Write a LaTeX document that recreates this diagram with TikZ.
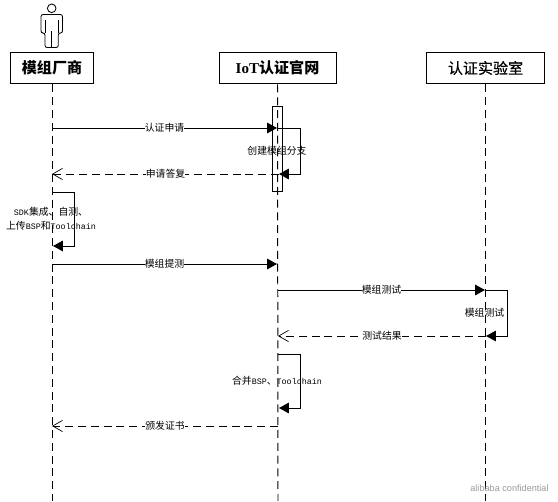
\documentclass[tikz,border=0pt]{standalone}
\usepackage{fontspec}
\setmainfont{Liberation Serif}
\newfontfamily\cjk{Noto Sans CJK SC}
\newfontfamily\cjkmid[FakeBold=0.6]{Noto Sans CJK SC}
\newfontfamily\lat[Scale=0.85]{Liberation Mono}
\newfontfamily\wmfont{Liberation Sans}
\usetikzlibrary{arrows.meta,positioning}
\definecolor{ink}{HTML}{000000}
\definecolor{muted}{HTML}{9A9A9A}
\tikzset{
  party/.style={draw=ink,line width=0.7pt,fill=white,minimum height=22.7pt,inner sep=0pt,font=\bfseries\fontsize{10.7}{12}\selectfont},
  life/.style={draw=ink,line width=0.7pt,dash pattern=on 5.7pt off 3.4pt},
  msg/.style={draw=ink,line width=0.7pt,-{Triangle[length=7pt,width=7.5pt]}},
  ret/.style={draw=ink,line width=0.7pt,dash pattern=on 5.7pt off 3.4pt,-{Straight Barb[length=7pt,width=8pt,line width=0.5pt]}},
  msglabel/.style={fill=white,inner sep=0pt,font=\cjk\fontsize{7}{8}\selectfont},
  selflabel/.style={inner sep=0pt,align=center,font=\cjk\fontsize{7}{10}\selectfont},
}
\begin{document}
\begin{tikzpicture}[x=0.025cm,y=-0.025cm]
  \useasboundingbox[fill=white] (0,0) rectangle (558,501);
  % lifelines first, the boxes sit on top
  \node[party,minimum width=59pt] (vendor) at (52,68) {\cjk\bfseries 模组厂商};
  \node[party,minimum width=83.2pt] (portal) at (277.5,68) {IoT{\cjk\bfseries 认证官网}};
  \node[party,minimum width=84.6pt] (lab) at (485.5,68) {\cjkmid\mdseries 认证实验室};
  \coordinate (vendorend) at (52,501);
  \coordinate (portalend) at (278,501);
  \coordinate (labend) at (485.5,501);
  \draw[life] (vendor.south) -- (vendorend);
  \draw[life] (portal.south) -- (portalend);
  \draw[life] (lab.south) -- (labend);
  % actor
  \draw[draw=ink,line width=0.6pt] (51.7,8.3) circle (4.3);
  \draw[draw=ink,line width=0.6pt,rounded corners=1.5pt] (45,47.5) -- (45,33) -- (41,33) -- (41,14.5) -- (62.5,14.5) -- (62.5,33) -- (58.3,33) -- (58.3,47.5) -- cycle;
  \draw[draw=ink,line width=0.6pt] (45,20) -- (45,33) (58.3,20) -- (58.3,33) (51.7,31) -- (51.7,47.5);
  % activation
  \node[draw=ink,line width=0.7pt,minimum width=7.5pt,minimum height=61pt,inner sep=0pt] (act) at (277.7,149) {};
  % points on the lifelines
  \coordinate (v128) at (52,128);
  \coordinate (p128) at (277,128);
  \coordinate (s128) at (278,128);
  \coordinate (p174) at (279,174);
  \coordinate (v174) at (52,174);
  \coordinate (v192) at (52,192);
  \coordinate (v246) at (53,246);
  \coordinate (v264) at (52,264);
  \coordinate (p264) at (277,264);
  \coordinate (p290) at (278,290);
  \coordinate (l290) at (485,290);
  \coordinate (s290) at (486,290);
  \coordinate (l336) at (486,336);
  \coordinate (p336) at (278,336);
  \coordinate (p354) at (278,354);
  \coordinate (p408) at (279,408);
  \coordinate (p426) at (278,426);
  \coordinate (v426) at (52,426);
  % messages
  \draw[msg] (v128) -- node[msglabel] (apply) {认证申请} (p128);
  \draw[msg] (s128) -- ++(22,0) |- (p174);
  \node[selflabel] (branch) at (277,150.5) {创建模组分支};
  \draw[ret] (p174) -- node[msglabel] (reply) {申请答复} (v174);
  \draw[msg] (v192) -- ++(22,0) |- (v246);
  \node[selflabel] (sdk) at (51,219) {{\lat SDK}集成、自测、\\上传{\lat BSP}和{\lat Toolchain}};
  \draw[msg] (v264) -- node[msglabel] (submit) {模组提测} (p264);
  \draw[msg] (p290) -- node[msglabel] (test) {模组测试} (l290);
  \draw[msg] (s290) -- ++(21,0) |- (l336);
  \node[selflabel] (labtest) at (484.5,312.5) {模组测试};
  \draw[ret] (l336) -- node[msglabel] (result) {测试结果} (p336);
  \draw[msg] (p354) -- ++(22,0) |- (p408);
  \node[selflabel] (merge) at (277,381) {合并{\lat BSP}、{\lat Toolchain}};
  \draw[ret] (p426) -- node[msglabel] (cert) {颁发证书} (v426);
  \node[font=\wmfont\fontsize{6.5}{8}\selectfont,text=muted,inner sep=0pt] (conf) at (509.5,488.5) {alibaba confidential};
\end{tikzpicture}
\end{document}
